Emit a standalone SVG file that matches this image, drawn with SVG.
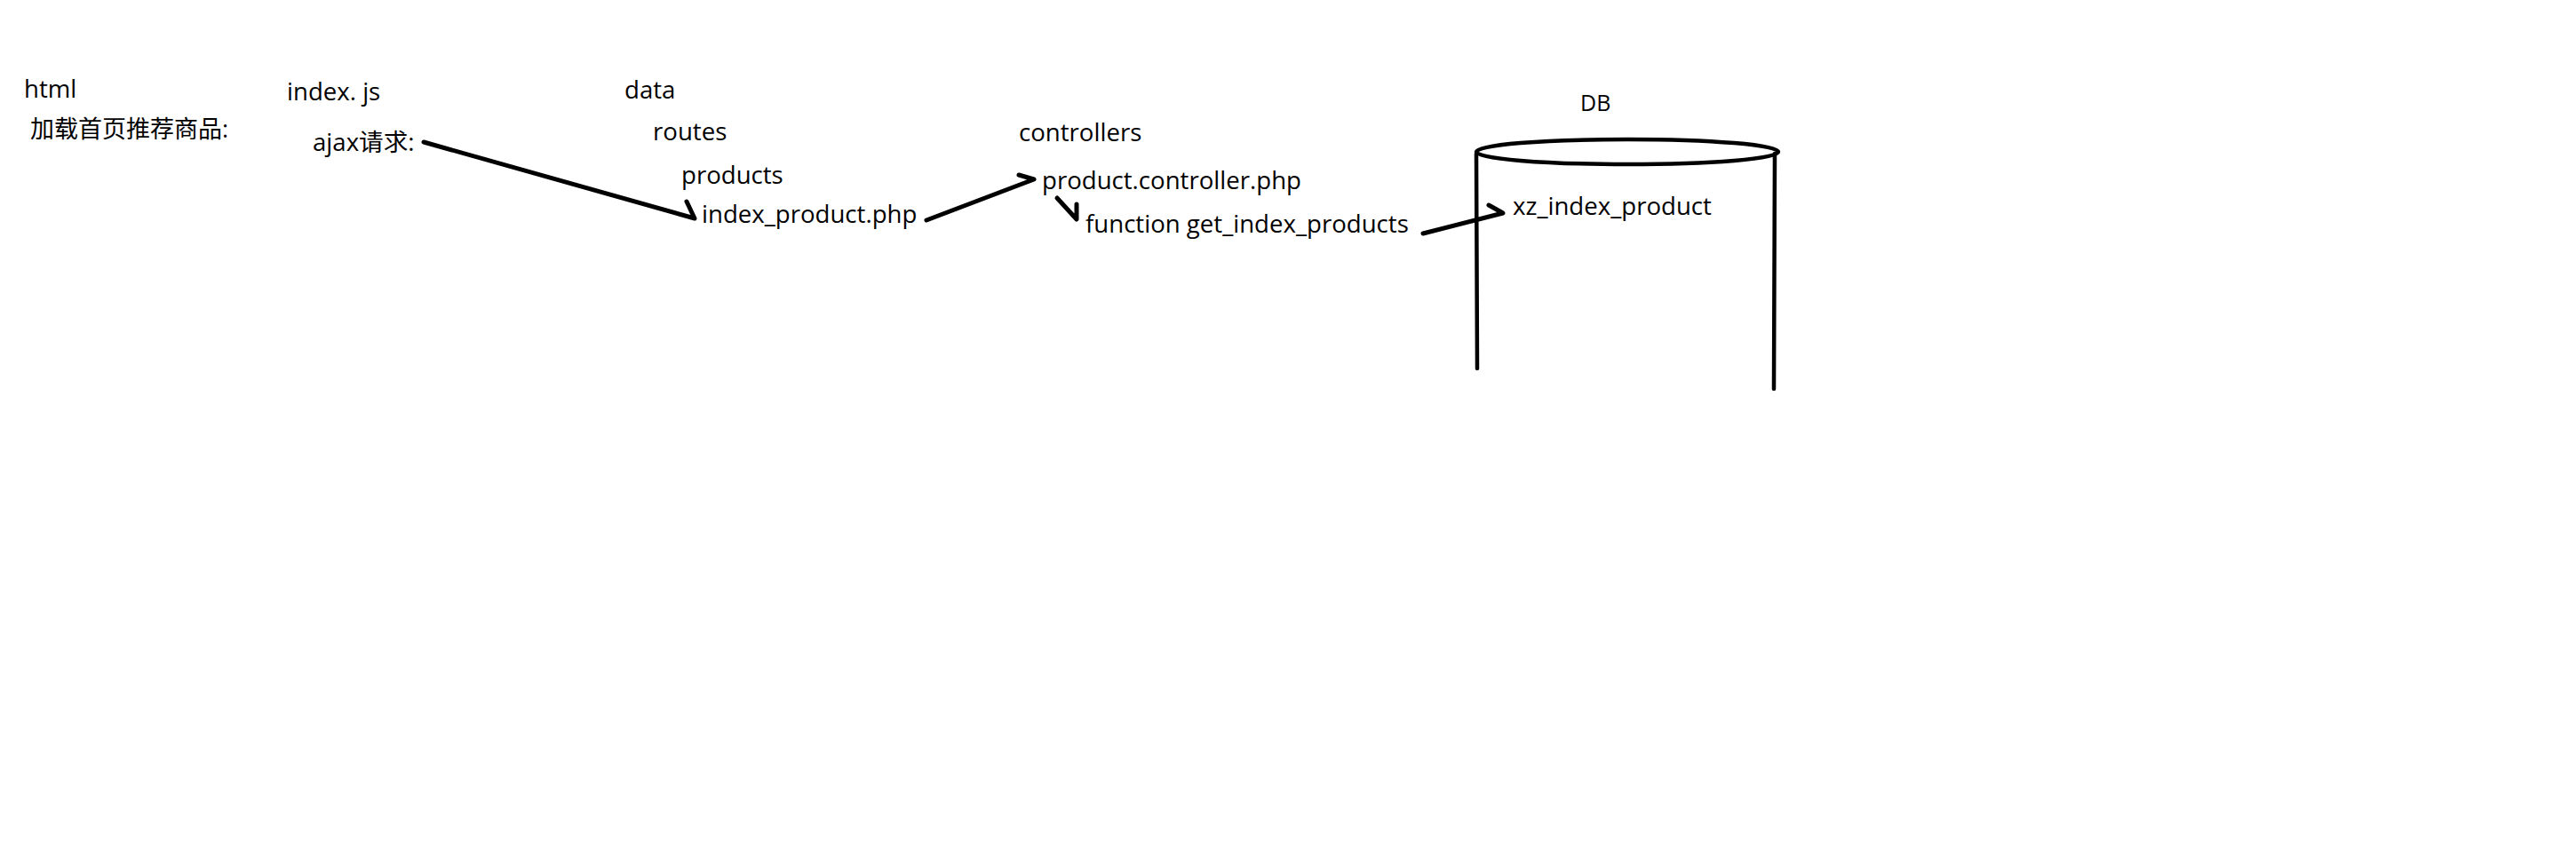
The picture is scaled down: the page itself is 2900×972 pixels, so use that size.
<svg xmlns="http://www.w3.org/2000/svg" width="2900" height="972" viewBox="0 0 2900 972">
<style>
text{font-family:"Open Sans","Noto Sans CJK SC",sans-serif;font-size:27.6px;fill:#000}
.db{font-size:25px}
.cjk{font-size:27px}
.stroke{fill:none;stroke:#000;stroke-width:5;stroke-linecap:round;stroke-linejoin:round}
.cyl{fill:none;stroke:#000;stroke-width:4.5;stroke-linecap:round}
</style>
<rect width="2900" height="972" fill="#fff"/>
<g id="html"><text x="27" y="110">html</text></g>
<g id="load"><text class="cjk" x="34" y="155">加载首页推荐商品:</text></g>
<g id="indexjs"><text x="323" y="113">index. js</text></g>
<g id="ajax"><text x="352" y="170">ajax请求:</text></g>
<g id="data"><text x="703" y="111">data</text></g>
<g id="routes"><text x="735" y="158">routes</text></g>
<g id="products"><text x="767" y="207">products</text></g>
<g id="index_product"><text x="790" y="251">index_product.php</text></g>
<g id="controllers"><text x="1147" y="159">controllers</text></g>
<g id="product_controller"><text x="1173" y="213">product.controller.php</text></g>
<g id="get_index_products"><text x="1222" y="262">function get_index_products</text></g>
<g id="db">
<text class="db" x="1779" y="125">DB</text>
<ellipse class="cyl" cx="1832" cy="171" rx="170" ry="14"/>
<line class="cyl" x1="1662" y1="173" x2="1663" y2="415"/>
<line class="cyl" x1="1998" y1="173" x2="1997" y2="438"/>
<text x="1703" y="242">xz_index_product</text>
</g>
<g id="connectors">
<polyline class="stroke" points="477,160 782,246 773,227"/>
<polyline class="stroke" points="1043,248 1164,202 1147,197"/>
<polyline class="stroke" points="1190,223 1212,247 1212,230"/>
<polyline class="stroke" points="1602,263 1692,240 1676,231"/>
</g>
</svg>
